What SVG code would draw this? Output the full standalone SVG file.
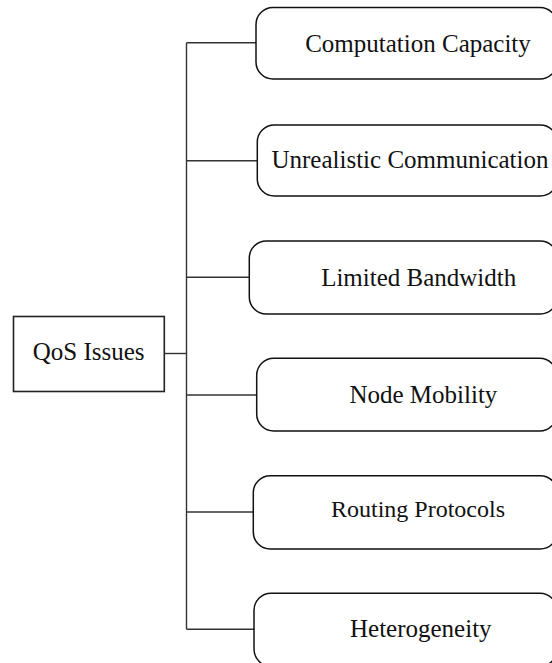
<svg xmlns="http://www.w3.org/2000/svg" width="552" height="663" viewBox="0 0 552 663">
  <style>
    .box { fill: #ffffff; stroke: #111111; stroke-width: 1.5; }
    .root { fill: #ffffff; stroke: #222222; stroke-width: 1.6; }
    .lbl { font-family: "Liberation Serif", "Times New Roman", serif; font-size: 25px; fill: #111111; text-anchor: middle; }
    .conn { stroke: #333333; stroke-width: 1.4; fill: none; }
  </style>
  <rect width="552" height="663" fill="#ffffff"/>
  <g id="connectors">
    <path class="conn" d="M186.5 42.7 V629.3"/>
    <path class="conn" d="M164.3 353.5 H186.5"/>
    <path class="conn" d="M186.5 42.7 H256"/>
    <path class="conn" d="M186.5 160.7 H257.3"/>
    <path class="conn" d="M186.5 277.3 H249.3"/>
    <path class="conn" d="M186.5 395 H256.7"/>
    <path class="conn" d="M186.5 512 H253.3"/>
    <path class="conn" d="M186.5 629.3 H254"/>
  </g>
  <g id="node-qos">
    <rect class="root" x="13.5" y="316.5" width="150.8" height="75"/>
    <text class="lbl" x="88.7" y="360">QoS Issues</text>
  </g>
  <g id="node-computation">
    <rect class="box" x="256" y="7.5" width="301" height="71.5" rx="17" ry="17"/>
    <text class="lbl" x="418" y="52">Computation Capacity</text>
  </g>
  <g id="node-unrealistic">
    <rect class="box" x="257.3" y="125" width="300" height="71" rx="17" ry="17"/>
    <text class="lbl" x="410" y="168">Unrealistic Communication</text>
  </g>
  <g id="node-bandwidth">
    <rect class="box" x="249.3" y="241" width="308" height="73" rx="17" ry="17"/>
    <text class="lbl" x="418.7" y="285.5">Limited Bandwidth</text>
  </g>
  <g id="node-mobility">
    <rect class="box" x="256.7" y="358.3" width="300" height="72.7" rx="17" ry="17"/>
    <text class="lbl" x="423.4" y="403">Node Mobility</text>
  </g>
  <g id="node-routing">
    <rect class="box" x="253.3" y="475.7" width="304" height="73.3" rx="17" ry="17"/>
    <text class="lbl" x="418" y="516.7" style="font-size:24px">Routing Protocols</text>
  </g>
  <g id="node-heterogeneity">
    <rect class="box" x="254" y="593.3" width="303" height="73" rx="17" ry="17"/>
    <text class="lbl" x="420.8" y="637">Heterogeneity</text>
  </g>
</svg>
